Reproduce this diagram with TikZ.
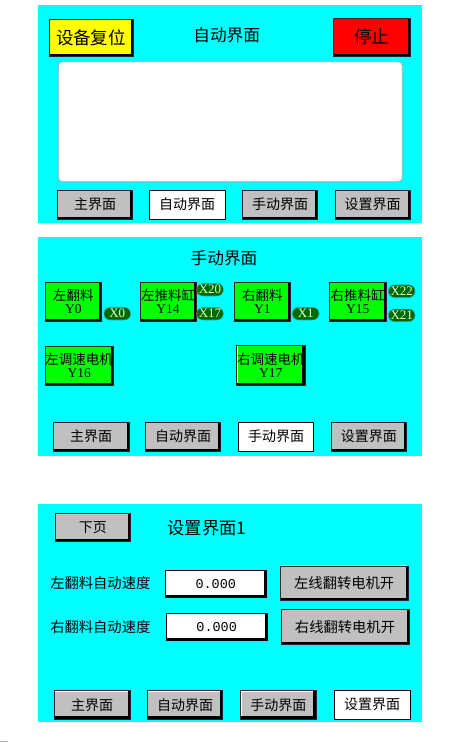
\documentclass[tikz,border=0pt]{standalone}
\usepackage{fontspec}
\setmainfont{Liberation Serif}
\newfontfamily\cjk{Noto Sans CJK SC}
\newfontfamily\lat{Liberation Serif}
\newfontfamily\mono{Liberation Mono}
\definecolor{hmicyan}{HTML}{00FFFF}
\definecolor{hmigray}{HTML}{C0C0C0}
\definecolor{hmigreen}{HTML}{00FF00}
\definecolor{hmiyellow}{HTML}{FFFF00}
\definecolor{hmired}{HTML}{FF0000}
\definecolor{pillgreen}{HTML}{006A00}
\definecolor{pillborder}{HTML}{3A9A9A}
\definecolor{pilltext}{HTML}{E8FFD8}
\definecolor{screenborder}{HTML}{A0A8C0}
\tikzset{
  panel/.style={fill=hmicyan, draw=none},
  hmibtn/.style={draw=black!85, line width=0.5pt, inner sep=0pt, align=center, text=black,
    path picture={
      \draw[black,line width=5pt] (path picture bounding box.south west) -| (path picture bounding box.north east);
      \draw[white,line width=2pt] ([yshift=2.5pt]path picture bounding box.south west) |- ([xshift=-2.5pt]path picture bounding box.north east);},
    font=\cjk\fontsize{14}{14}\selectfont},
  graybtn/.style={hmibtn, fill=hmigray},
  curbtn/.style={draw=black, line width=0.8pt, fill=white, inner sep=0pt, text=black,
    font=\cjk\fontsize{14}{14}\selectfont},
  greenbtn/.style={hmibtn, fill=hmigreen, font=\fontsize{13.5}{13}\selectfont},
  pill/.style={rounded corners=6pt, fill=pillgreen, draw=pillborder, line width=0.6pt, text=pilltext,
    inner sep=0pt, minimum width=26.5pt, minimum height=12.5pt, font=\lat\fontsize{13}{13}\selectfont},
  inbox/.style={fill=white, draw=black, line width=0.5pt, inner sep=0pt,
    path picture={
      \draw[black,line width=5pt] (path picture bounding box.south west) -| (path picture bounding box.north east);
      \draw[gray!70,line width=2pt] ([yshift=2.5pt]path picture bounding box.south west) |- ([xshift=-2.5pt]path picture bounding box.north east);},
    font=\mono\fontsize{13.5}{13.5}\selectfont},
  lbl/.style={inner sep=0pt, text=black, font=\cjk\fontsize{14.3}{14.3}\selectfont},
  ttl/.style={inner sep=0pt, text=black, font=\cjk\fontsize{16.7}{16.7}\selectfont},
}
\begin{document}
\begin{tikzpicture}[x=1pt,y=-1pt]
\useasboundingbox (0,0) rectangle (450,742);
\fill[white] (0,0) rectangle (450,742);

% ---------- Panel 1: automatic screen ----------
\path[panel] (38,5) rectangle (422,223);
\node[graybtn, fill=hmiyellow, minimum width=84pt, minimum height=37pt,
  font=\cjk\fontsize{17.5}{17.5}\selectfont] (reset) at (91,37.5) {设备复位};
\node[ttl] (t1) at (226.7,35) {自动界面};
\node[graybtn, fill=hmired, minimum width=77pt, minimum height=38pt,
  font=\cjk\fontsize{17.5}{17.5}\selectfont] (stop) at (371.5,37) {停止};
\draw[screenborder, fill=white, line width=0.8pt, rounded corners=4pt] (58.3,61.7) rectangle (402.3,181.7);
\node[graybtn, minimum width=75.4pt, minimum height=29pt] (a1) at (95,204.5) {主界面};
\node[curbtn, minimum width=75.5pt, minimum height=29pt] (a2) at (187.2,204.5) {自动界面};
\node[graybtn, minimum width=75.4pt, minimum height=29pt] (a3) at (280,204.5) {手动界面};
\node[graybtn, minimum width=75pt, minimum height=29pt] (a4) at (372.5,204.5) {设置界面};

% ---------- Panel 2: manual screen ----------
\path[panel] (38,237) rectangle (422,456);
\node[ttl] (t2) at (224,258) {手动界面};
\node[greenbtn, minimum width=56.7pt, minimum height=38.7pt] (m1) at (73.3,301.7) {{\cjk 左翻料}\\{\lat Y0}};
\node[greenbtn, minimum width=56pt, minimum height=38.7pt] (m2) at (168,301.7) {{\cjk 左推料缸}\\{\lat Y14}};
\node[greenbtn, minimum width=56.7pt, minimum height=38.7pt] (m3) at (262.3,301.7) {{\cjk 右翻料}\\{\lat Y1}};
\node[greenbtn, minimum width=56.7pt, minimum height=38.7pt] (m4) at (357.7,301.7) {{\cjk 右推料缸}\\{\lat Y15}};
\node[greenbtn, minimum width=68.3pt, minimum height=39.3pt] (m5) at (79.2,365.7) {{\cjk 左调速电机}\\{\lat Y16}};
\node[greenbtn, minimum width=68.3pt, minimum height=40pt] (m6) at (270.8,365) {{\cjk 右调速电机}\\{\lat Y17}};
\node[pill] (x0) at (117.3,313.7) {X0};
\node[pill] (x20) at (210,289.7) {X20};
\node[pill] (x17) at (210,313.7) {X17};
\node[pill] (x1) at (305.7,313.7) {X1};
\node[pill] (x22) at (401.7,291.2) {X22};
\node[pill] (x21) at (401.7,315.3) {X21};
\node[graybtn, minimum width=75.7pt, minimum height=28.7pt] (b1) at (91.2,436.7) {主界面};
\node[graybtn, minimum width=75.4pt, minimum height=28.7pt] (b2) at (183,436.7) {自动界面};
\node[curbtn, minimum width=75.4pt, minimum height=29pt] (b3) at (276,436.7) {手动界面};
\node[graybtn, minimum width=75.7pt, minimum height=28.7pt] (b4) at (368.8,436.7) {设置界面};

% ---------- Panel 3: settings screen ----------
\path[panel] (38,504) rectangle (422,722);
\node[graybtn, minimum width=75.7pt, minimum height=27.7pt] (next) at (92.8,527.2) {下页};
\node[ttl, font=\cjk\fontsize{17.3}{17.3}\selectfont] (t3) at (207,528.3) {设置界面1};
\node[lbl] (l1) at (100.3,583.3) {左翻料自动速度};
\node[lbl] (l2) at (100.3,626.7) {右翻料自动速度};
\node[inbox, minimum width=101.7pt, minimum height=27.3pt] (in1) at (215.8,583.7) {0.000};
\node[inbox, minimum width=101.3pt, minimum height=27.4pt] (in2) at (216.7,627) {0.000};
\node[graybtn, minimum width=128.3pt, minimum height=34.7pt, font=\cjk\fontsize{14.3}{14.3}\selectfont] (s1) at (344.2,583.3) {左线翻转电机开};
\node[graybtn, minimum width=128pt, minimum height=34.7pt, font=\cjk\fontsize{14.3}{14.3}\selectfont] (s2) at (345,626.7) {右线翻转电机开};
\node[graybtn, minimum width=76pt, minimum height=28.3pt] (c1) at (92,704.8) {主界面};
\node[graybtn, minimum width=75.4pt, minimum height=28.3pt] (c2) at (185,704.8) {自动界面};
\node[graybtn, minimum width=75.3pt, minimum height=28.3pt] (c3) at (278.3,704.8) {手动界面};
\node[curbtn, minimum width=76pt, minimum height=28.3pt] (c4) at (372,704.8) {设置界面};

\draw[gray!60, line width=1pt] (0,741.2) -- (8,741.2);
\end{tikzpicture}
\end{document}
